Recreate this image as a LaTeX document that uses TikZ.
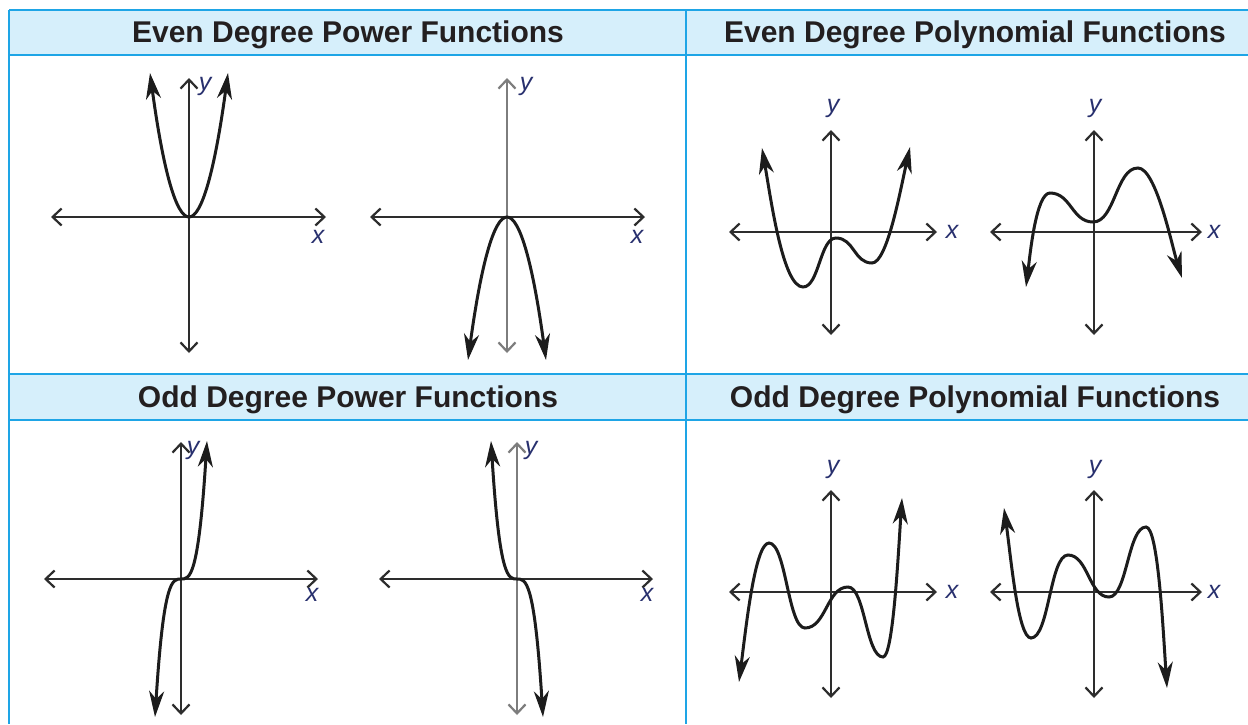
\documentclass[tikz,border=0pt]{standalone}
\usepackage{fontspec}
\setmainfont{Liberation Sans}
\usetikzlibrary{arrows.meta}
\definecolor{gridblue}{RGB}{30,165,230}
\definecolor{headfill}{RGB}{214,239,251}
\definecolor{headtext}{RGB}{35,31,32}
\definecolor{lblcol}{RGB}{40,48,110}
\definecolor{curvecol}{RGB}{28,28,28}
\definecolor{axiscol}{RGB}{45,45,45}
\definecolor{axisgray}{RGB}{125,125,125}
\begin{document}
\begin{tikzpicture}[x=1pt,y=-1pt,
  header/.style={font=\fontsize{30}{36}\selectfont\bfseries, text=headtext, anchor=base, inner sep=0pt},
  gridline/.style={draw=gridblue, line width=2pt},
  axis/.style={draw=axiscol, line width=2.2pt, {Straight Barb[length=9pt,width=17pt]}-{Straight Barb[length=9pt,width=17pt]}},
  grayaxis/.style={axis, draw=axisgray},
  curve/.style={draw=curvecol, line width=3pt, {Stealth[length=26pt,width=15pt,inset=8pt]}-{Stealth[length=26pt,width=15pt,inset=8pt]}},
  lbl/.style={font=\fontsize{25}{30}\selectfont\itshape, text=lblcol, inner sep=0pt, anchor=center}
]
\useasboundingbox (0,0) rectangle (1248,724);
\fill[white] (0,0) rectangle (1248,724);

% ---------- table ----------
\fill[headfill] (9,10) rectangle (1248,55);
\fill[headfill] (9,374) rectangle (1248,420);
\coordinate (tl) at (9,10);   \coordinate (tr) at (1248,10);
\coordinate (h1l) at (9,55);  \coordinate (h1r) at (1248,55);
\coordinate (h2l) at (9,374); \coordinate (h2r) at (1248,374);
\coordinate (h3l) at (9,420); \coordinate (h3r) at (1248,420);
\coordinate (bl) at (9,724);
\coordinate (mt) at (686,10); \coordinate (mb) at (686,724);
\draw[gridline] (tl) -- (tr);
\draw[gridline] (h1l) -- (h1r);
\draw[gridline] (h2l) -- (h2r);
\draw[gridline] (h3l) -- (h3r);
\draw[gridline] (tl) -- (bl);
\draw[gridline] (mt) -- (mb);

\node[header] (hA) at (348,42.5) {Even Degree Power Functions};
\node[header] (hB) at (975,42.5) {Even Degree Polynomial Functions};
\node[header] (hC) at (348,407.5) {Odd Degree Power Functions};
\node[header] (hD) at (975,407.5) {Odd Degree Polynomial Functions};

% ---------- Graph A: even power, opens up ----------
\coordinate (Axl) at (51,217);  \coordinate (Axr) at (326,217);
\coordinate (Ayt) at (189,78);  \coordinate (Ayb) at (189,353);
\draw[axis] (Axl) -- (Axr);
\draw[axis] (Ayb) -- (Ayt);
\coordinate (AL) at (150,73); \coordinate (AV) at (189,217); \coordinate (AR) at (228,73);
\draw[curve] (AL) .. controls (163,169) and (176,217) .. (AV)
             .. controls (202,217) and (215,169) .. (AR);
\node[lbl] (Ay) at (205,86) {y};
\node[lbl] (Ax) at (318,237) {x};

% ---------- Graph B: even power, opens down ----------
\coordinate (Bxl) at (370,217);  \coordinate (Bxr) at (645,217);
\coordinate (Byt) at (507,78);   \coordinate (Byb) at (507,353);
\draw[axis] (Bxl) -- (Bxr);
\draw[grayaxis] (Byb) -- (Byt);
\coordinate (BL) at (468,360); \coordinate (BV) at (507,217); \coordinate (BR) at (546,360);
\draw[curve] (BL) .. controls (481,264.7) and (494,217) .. (BV)
             .. controls (520,217) and (533,264.7) .. (BR);
\node[lbl] (By) at (526,86) {y};
\node[lbl] (Bx) at (637,237) {x};

% ---------- Graph C: odd power, increasing ----------
\coordinate (Cxl) at (44,579);  \coordinate (Cxr) at (318,579);
\coordinate (Cyt) at (181,442); \coordinate (Cyb) at (181,715);
\draw[axis] (Cxl) -- (Cxr);
\draw[axis] (Cyb) -- (Cyt);
\coordinate (CL) at (155,717); \coordinate (CO) at (181,579); \coordinate (CR) at (207,441);
\draw[curve] (CL) .. controls (163.7,579) and (172.3,579) .. (CO)
             .. controls (189.7,579) and (198.3,579) .. (CR);
\node[lbl] (Cy) at (193,450) {y};
\node[lbl] (Cx) at (312,595) {x};

% ---------- Graph D: odd power, decreasing ----------
\coordinate (Dxl) at (379,579);  \coordinate (Dxr) at (653,579);
\coordinate (Dyt) at (517,442);  \coordinate (Dyb) at (517,715);
\draw[axis] (Dxl) -- (Dxr);
\draw[grayaxis] (Dyb) -- (Dyt);
\coordinate (DL) at (491,441); \coordinate (DO) at (517,579); \coordinate (DR) at (543,717);
\draw[curve] (DL) .. controls (499.7,579) and (508.3,579) .. (DO)
             .. controls (525.7,579) and (534.3,579) .. (DR);
\node[lbl] (Dy) at (531,450) {y};
\node[lbl] (Dx) at (647,595) {x};

% ---------- Graph E: even polynomial, up-up ----------
\coordinate (Exl) at (729,232);  \coordinate (Exr) at (937,232);
\coordinate (Eyt) at (831,130);  \coordinate (Eyb) at (831,335);
\draw[axis] (Exl) -- (Exr);
\draw[axis] (Eyb) -- (Eyt);
\coordinate (E0) at (762,148); \coordinate (E1) at (803,287); \coordinate (E2) at (836,238);
\coordinate (E3) at (872,263); \coordinate (E4) at (910,147);
\draw[curve] (E0) .. controls (771,200) and (783,287) .. (E1)
             .. controls (819,287) and (820,238) .. (E2)
             .. controls (854,238) and (854,263) .. (E3)
             .. controls (887,263) and (900,192) .. (E4);
\node[lbl] (Ey) at (833,108) {y};
\node[lbl] (Ex) at (952,232) {x};

% ---------- Graph F: even polynomial, down-down ----------
\coordinate (Fxl) at (990,232);  \coordinate (Fxr) at (1202,232);
\coordinate (Fyt) at (1094,130); \coordinate (Fyb) at (1094,335);
\draw[axis] (Fxl) -- (Fxr);
\draw[axis] (Fyb) -- (Fyt);
\coordinate (F0) at (1026,287); \coordinate (F1) at (1050,193); \coordinate (F2) at (1093,222);
\coordinate (F3) at (1138,168); \coordinate (F4) at (1182,278);
\draw[curve] (F0) .. controls (1030,255) and (1036,193) .. (F1)
             .. controls (1071,193) and (1072,222) .. (F2)
             .. controls (1115,222) and (1116,168) .. (F3)
             .. controls (1156,168) and (1172,246) .. (F4);
\node[lbl] (Fy) at (1095,108) {y};
\node[lbl] (Fx) at (1214,232) {x};

% ---------- Graph G: odd polynomial, down-up ----------
\coordinate (Gxl) at (729,592);  \coordinate (Gxr) at (937,592);
\coordinate (Gyt) at (831,490);  \coordinate (Gyb) at (831,698);
\draw[axis] (Gxl) -- (Gxr);
\draw[axis] (Gyb) -- (Gyt);
\coordinate (G0) at (739,682); \coordinate (G1) at (769,543); \coordinate (G2) at (805,628);
\coordinate (G3) at (848,587); \coordinate (G4) at (883,657); \coordinate (G5) at (902,498);
\draw[curve] (G0) .. controls (746,627) and (755,543) .. (G1)
             .. controls (786,543) and (788,628) .. (G2)
             .. controls (826,628) and (827,587) .. (G3)
             .. controls (865,587) and (866,657) .. (G4)
             .. controls (893,657) and (898,558) .. (G5);
\node[lbl] (Gy) at (833,469) {y};
\node[lbl] (Gx) at (952,592) {x};

% ---------- Graph H: odd polynomial, up-down ----------
\coordinate (Hxl) at (990,592);  \coordinate (Hxr) at (1202,592);
\coordinate (Hyt) at (1094,490); \coordinate (Hyb) at (1094,698);
\draw[axis] (Hxl) -- (Hxr);
\draw[axis] (Hyb) -- (Hyt);
\coordinate (H0) at (1004,508); \coordinate (H1) at (1031,638); \coordinate (H2) at (1068,555);
\coordinate (H3) at (1109,597); \coordinate (H4) at (1146,527); \coordinate (H5) at (1167,688);
\draw[curve] (H0) .. controls (1011,558) and (1018,638) .. (H1)
             .. controls (1049,638) and (1050,555) .. (H2)
             .. controls (1088,555) and (1089,597) .. (H3)
             .. controls (1127,597) and (1128,527) .. (H4)
             .. controls (1158,527) and (1163,628) .. (H5);
\node[lbl] (Hy) at (1095,469) {y};
\node[lbl] (Hx) at (1214,592) {x};
\end{tikzpicture}
\end{document}
